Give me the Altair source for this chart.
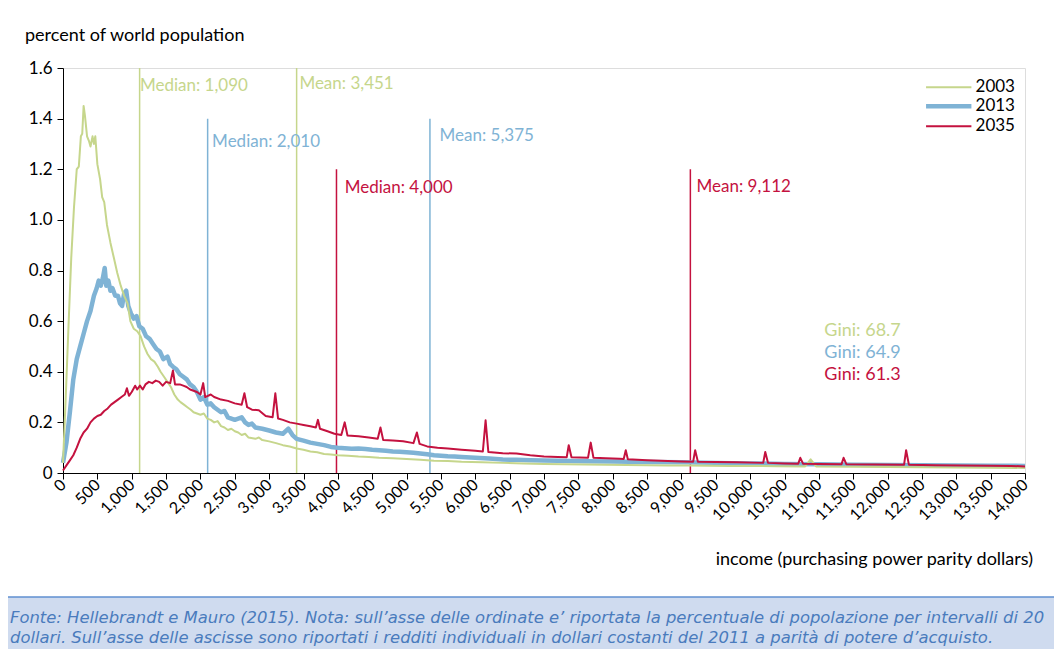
import altair as alt
import pandas as pd

# ---------------- data ----------------
years = ["2003", "2013", "2035"]
colors = ["#c6d68c", "#7fb3d5", "#c4123f"]

series_2003 = [
    (0, 0.04), (40, 0.30), (80, 0.58), (120, 0.85), (160, 1.05), (200, 1.20), (230, 1.21),
    (260, 1.33), (280, 1.34), (300, 1.45), (320, 1.41), (350, 1.33), (380, 1.31), (400, 1.29),
    (430, 1.33), (450, 1.30), (470, 1.33), (500, 1.22), (540, 1.16), (570, 1.09), (600, 1.07),
    (640, 0.98), (690, 0.91), (740, 0.85), (790, 0.79), (840, 0.74), (890, 0.70), (940, 0.67),
    (980, 0.60), (1030, 0.57), (1080, 0.56), (1130, 0.54), (1180, 0.50), (1230, 0.47),
    (1280, 0.45), (1330, 0.44), (1380, 0.42), (1420, 0.40), (1470, 0.38), (1520, 0.36),
    (1570, 0.34), (1620, 0.31), (1670, 0.29), (1710, 0.28), (1760, 0.27), (1810, 0.26),
    (1860, 0.25), (1900, 0.24), (1950, 0.235), (2000, 0.23), (2050, 0.235), (2100, 0.215),
    (2150, 0.21), (2200, 0.20), (2250, 0.205), (2300, 0.185), (2350, 0.18), (2400, 0.17),
    (2450, 0.175), (2500, 0.165), (2550, 0.16), (2600, 0.15), (2650, 0.155), (2700, 0.14),
    (2800, 0.135), (2850, 0.14), (2900, 0.13), (3000, 0.125), (3100, 0.118), (3200, 0.11),
    (3300, 0.105), (3400, 0.097), (3500, 0.092), (3600, 0.085), (3700, 0.082), (3800, 0.075),
    (3900, 0.073), (4000, 0.07), (4150, 0.068), (4300, 0.065), (4450, 0.063), (4600, 0.06),
    (4800, 0.058), (5000, 0.055), (5200, 0.052), (5400, 0.048), (5600, 0.047), (5800, 0.044),
    (6100, 0.042), (6400, 0.04), (6700, 0.038), (7000, 0.036), (7300, 0.035), (7600, 0.034),
    (7900, 0.033), (8200, 0.032), (8500, 0.031), (8800, 0.03), (9100, 0.03), (9400, 0.029),
    (9700, 0.028), (10000, 0.028), (10400, 0.027), (10800, 0.026), (10880, 0.054),
    (10960, 0.026), (11500, 0.025), (12000, 0.024), (12500, 0.023), (13000, 0.022),
    (13500, 0.021), (14000, 0.02),
]

series_2013 = [
    (0, 0.04), (50, 0.12), (100, 0.24), (150, 0.37), (200, 0.45), (250, 0.50), (300, 0.55),
    (350, 0.60), (400, 0.64), (450, 0.70), (490, 0.73), (520, 0.76), (550, 0.74), (580, 0.77),
    (607, 0.81), (630, 0.74), (660, 0.76), (690, 0.72), (720, 0.73), (760, 0.70), (800, 0.70),
    (830, 0.67), (860, 0.66), (890, 0.71), (920, 0.72), (950, 0.66), (990, 0.63), (1030, 0.61),
    (1070, 0.62), (1110, 0.58), (1160, 0.57), (1210, 0.54), (1260, 0.53), (1310, 0.51),
    (1360, 0.49), (1410, 0.48), (1460, 0.45), (1520, 0.46), (1560, 0.43), (1600, 0.42),
    (1650, 0.41), (1700, 0.39), (1750, 0.38), (1800, 0.37), (1850, 0.35), (1900, 0.34),
    (1950, 0.32), (2000, 0.29), (2050, 0.30), (2100, 0.27), (2150, 0.275), (2200, 0.26),
    (2250, 0.25), (2300, 0.24), (2350, 0.245), (2400, 0.22), (2450, 0.215), (2500, 0.21),
    (2600, 0.22), (2650, 0.20), (2700, 0.19), (2750, 0.195), (2800, 0.18), (2900, 0.175),
    (3000, 0.168), (3100, 0.16), (3200, 0.155), (3280, 0.175), (3340, 0.15), (3400, 0.135),
    (3500, 0.128), (3600, 0.12), (3700, 0.115), (3800, 0.11), (3900, 0.103), (4000, 0.10),
    (4100, 0.098), (4200, 0.096), (4300, 0.097), (4400, 0.095), (4500, 0.092), (4600, 0.09),
    (4700, 0.088), (4800, 0.085), (4900, 0.084), (5000, 0.082), (5100, 0.08), (5200, 0.077),
    (5300, 0.074), (5400, 0.07), (5500, 0.068), (5600, 0.066), (5700, 0.065), (5800, 0.063),
    (6000, 0.06), (6200, 0.057), (6400, 0.053), (6600, 0.052), (6800, 0.05), (7000, 0.049),
    (7200, 0.048), (7400, 0.047), (7600, 0.046), (8000, 0.045), (8500, 0.043), (9000, 0.042),
    (9500, 0.04), (10000, 0.038), (10500, 0.036), (11000, 0.035), (11500, 0.033),
    (12000, 0.032), (12500, 0.031), (13000, 0.03), (13500, 0.029), (14000, 0.028),
]

series_2035 = [
    (0, 0.01), (50, 0.03), (100, 0.05), (150, 0.07), (200, 0.10), (250, 0.135), (300, 0.16),
    (350, 0.175), (400, 0.20), (450, 0.215), (500, 0.225), (550, 0.23), (600, 0.245),
    (650, 0.255), (700, 0.27), (750, 0.28), (800, 0.29), (850, 0.30), (900, 0.31),
    (930, 0.335), (960, 0.305), (1000, 0.32), (1050, 0.345), (1080, 0.33), (1120, 0.345),
    (1160, 0.33), (1200, 0.35), (1250, 0.36), (1300, 0.355), (1350, 0.365), (1400, 0.36),
    (1450, 0.345), (1500, 0.36), (1560, 0.355), (1600, 0.405), (1630, 0.35), (1700, 0.35),
    (1750, 0.345), (1800, 0.34), (1850, 0.33), (1900, 0.325), (1950, 0.32), (2000, 0.31),
    (2040, 0.355), (2070, 0.30), (2150, 0.31), (2200, 0.30), (2300, 0.29), (2400, 0.285),
    (2500, 0.275), (2600, 0.27), (2640, 0.315), (2680, 0.26), (2750, 0.25), (2850, 0.248),
    (2950, 0.225), (3050, 0.22), (3090, 0.315), (3130, 0.215), (3200, 0.21), (3300, 0.20),
    (3400, 0.195), (3500, 0.19), (3600, 0.185), (3680, 0.18), (3710, 0.21), (3740, 0.175),
    (3850, 0.165), (3950, 0.155), (4050, 0.15), (4100, 0.20), (4140, 0.148), (4300, 0.145),
    (4450, 0.14), (4580, 0.135), (4620, 0.18), (4660, 0.13), (4800, 0.128), (4950, 0.125),
    (5100, 0.118), (5150, 0.16), (5190, 0.115), (5300, 0.105), (5450, 0.10), (5600, 0.097),
    (5800, 0.092), (6000, 0.088), (6110, 0.085), (6150, 0.208), (6190, 0.083), (6400, 0.078),
    (6600, 0.077), (6800, 0.07), (7000, 0.065), (7200, 0.063), (7330, 0.062), (7360, 0.11),
    (7400, 0.062), (7640, 0.06), (7680, 0.12), (7720, 0.06), (7900, 0.058), (8100, 0.056),
    (8160, 0.055), (8190, 0.09), (8220, 0.054), (8500, 0.05), (8800, 0.047), (9000, 0.045),
    (9170, 0.044), (9200, 0.09), (9240, 0.044), (9500, 0.043), (9800, 0.042), (10190, 0.04),
    (10220, 0.083), (10260, 0.04), (10500, 0.038), (10700, 0.037), (10730, 0.06),
    (10770, 0.037), (11000, 0.036), (11330, 0.035), (11360, 0.06), (11400, 0.035),
    (11800, 0.034), (12240, 0.033), (12270, 0.09), (12310, 0.033), (12700, 0.031),
    (13100, 0.03), (13500, 0.029), (13800, 0.028), (14000, 0.026),
]

# vertical reference lines (as drawn in the picture) and their labels
ref_labels = ["Median: 1,090", "Mean: 3,451", "Median: 2,010", "Mean: 5,375", "Median: 4,000", "Mean: 9,112"]
ref_year = ["2003", "2003", "2013", "2013", "2035", "2035"]
ref_x = [1115, 3400, 2105, 5340, 3980, 9130]
ref_top = [1.6, 1.6, 1.4, 1.4, 1.2, 1.2]
ref_label_x = [1120, 3440, 2170, 5480, 4100, 9220]
ref_label_y = [1.528, 1.536, 1.307, 1.33, 1.125, 1.13]

gini_labels = ["Gini: 68.7", "Gini: 64.9", "Gini: 61.3"]
gini_y = [0.56, 0.475, 0.388]
gini_x = 11080

legend_y = [1.524, 1.449, 1.37]
legend_x = [12560, 13220]
legend_text_x = 13280

x_ticks = list(range(0, 14001, 500))
y_ticks = [0, 0.2, 0.4, 0.6, 0.8, 1.0, 1.2, 1.4, 1.6]

y_title_text = "percent of world population"
x_title_text = "income (purchasing power parity dollars)"
footer_lines = [
    "Fonte: Hellebrandt e Mauro (2015). Nota: sull’asse delle ordinate e’ riportata la percentuale di popolazione per intervalli di 20",
    "dollari. Sull’asse delle ascisse sono riportati i redditi individuali in dollari costanti del 2011 a parità di potere d’acquisto.",
]

# ---------------- chart ----------------
FONT = "Lato"
series = {"2003": series_2003, "2013": series_2013, "2035": series_2035}
widths = {"2003": 2, "2013": 4.5, "2035": 2}
color_of = dict(zip(years, colors))

xscale = alt.Scale(domain=[0, 14000], nice=False, zero=False)
yscale = alt.Scale(domain=[0, 1.6], nice=False)

x_axis = alt.Axis(values=x_ticks, labelExpr="format(datum.value, ',')", labelAngle=-45,
                  labelAlign="right", labelBaseline="middle", title=None, grid=False, tickSize=6,
                  labelFontSize=16, labelFont=FONT, labelColor="black", domainColor="black",
                  tickColor="black", labelPadding=3, labelOverlap=False, labelFlush=False)
y_axis = alt.Axis(values=y_ticks, labelExpr="datum.value == 0 ? '0' : format(datum.value, '.1f')",
                  title=None, grid=False, tickSize=6, labelFontSize=17, labelFont=FONT,
                  labelColor="black", domainColor="black", tickColor="black", labelPadding=5)


def X(field):
    return alt.X(field, scale=xscale, axis=x_axis)


def Y(field):
    return alt.Y(field, scale=yscale, axis=y_axis)


layers = []
for yr in ["2013", "2003", "2035"]:
    d = pd.DataFrame(series[yr], columns=["income", "pct"])
    layers.append(alt.Chart(d).mark_line(color=color_of[yr], strokeWidth=widths[yr],
                                         strokeJoin="round").encode(x=X("income:Q"), y=Y("pct:Q")))

ref_df = pd.DataFrame({"label": ref_labels, "year": ref_year, "x": ref_x, "top": ref_top,
                       "lx": ref_label_x, "ly": ref_label_y})
cscale = alt.Scale(domain=years, range=colors)

rules = alt.Chart(ref_df).mark_rule(strokeWidth=1.5).encode(
    x=X("x:Q"), y=Y("top:Q"), y2=alt.datum(0),
    color=alt.Color("year:N", scale=cscale, legend=None),
)
ref_text = alt.Chart(ref_df).mark_text(align="left", baseline="middle", font=FONT, fontSize=17).encode(
    x=X("lx:Q"), y=Y("ly:Q"), text="label:N",
    color=alt.Color("year:N", scale=cscale, legend=None),
)

gini_df = pd.DataFrame({"label": gini_labels, "year": years, "y": gini_y, "gx": [gini_x] * 3})
gini_text = alt.Chart(gini_df).mark_text(align="left", baseline="middle", font=FONT, fontSize=18).encode(
    x=X("gx:Q"), y=Y("y:Q"), text="label:N",
    color=alt.Color("year:N", scale=cscale, legend=None),
)

leg_df = pd.DataFrame({"year": years, "y": legend_y, "tx": [legend_text_x] * 3})
leg_lines = []
for yr, yy in zip(years, legend_y):
    dd = pd.DataFrame({"x1": [legend_x[0]], "x2": [legend_x[1]], "y": [yy]})
    leg_lines.append(alt.Chart(dd).mark_rule(color=color_of[yr], strokeWidth=widths[yr]).encode(
        x=X("x1:Q"), x2="x2:Q", y=Y("y:Q")))
leg_text = alt.Chart(leg_df).mark_text(align="left", baseline="middle", font=FONT, fontSize=17,
                                       color="black").encode(
    x=X("tx:Q"), y=Y("y:Q"), text="year:N",
)

y_title = alt.Chart(pd.DataFrame({"t": [y_title_text]})).mark_text(
    align="left", baseline="middle", font=FONT, fontSize=18, color="black").encode(
    x=alt.value(-38), y=alt.value(-32), text="t:N")
x_title = alt.Chart(pd.DataFrame({"t": [x_title_text]})).mark_text(
    align="right", baseline="middle", font=FONT, fontSize=18, color="black").encode(
    x=alt.value(970), y=alt.value(492), text="t:N")

footer_bg = alt.Chart(pd.DataFrame({"a": [0]})).mark_rect(color="#cfdbef").encode(
    x=alt.value(-56), x2=alt.value(992), y=alt.value(529), y2=alt.value(592))
footer_line = alt.Chart(pd.DataFrame({"a": [0]})).mark_rule(color="#5f8fd0", strokeWidth=1.5).encode(
    x=alt.value(-56), x2=alt.value(992), y=alt.value(529))
footer_texts = []
for txt, yy in zip(footer_lines, [550, 570]):
    footer_texts.append(alt.Chart(pd.DataFrame({"t": [txt]})).mark_text(
        align="left", baseline="middle", font="DejaVu Sans", fontSize=16.4, fontStyle="italic",
        color="#4a7bbd").encode(x=alt.value(-53), y=alt.value(yy), text="t:N"))

chart = alt.layer(
    footer_bg, footer_line, *footer_texts,
    rules, *layers, ref_text, gini_text, *leg_lines, leg_text, y_title, x_title,
).properties(
    width=962, height=405,
    padding={"left": 55, "top": 60, "right": 29, "bottom": 176},
    autosize=alt.AutoSizeParams(type="none"),
).configure_view(stroke="#555", strokeWidth=1).configure(background="white")

chart.save("out.html", embed_options={"renderer": "svg", "actions": False})
